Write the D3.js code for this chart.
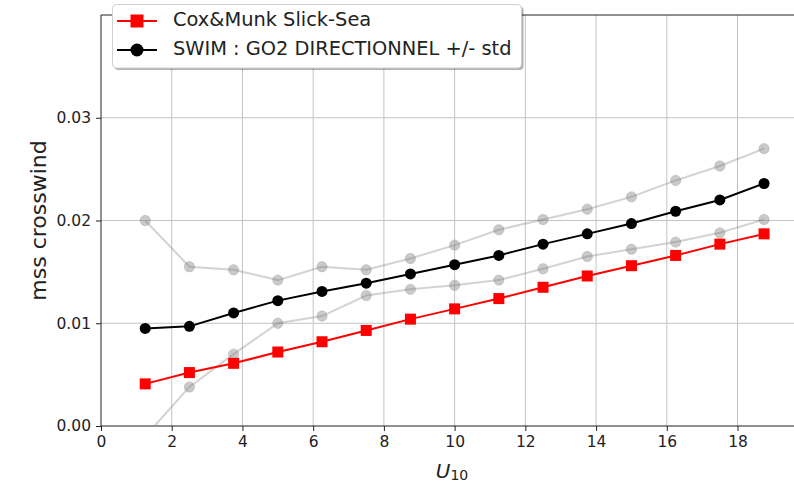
<!DOCTYPE html>
<html>
<head>
<meta charset="utf-8">
<script src="https://cdn.jsdelivr.net/npm/d3@7"></script>
<style>
  html, body { margin: 0; padding: 0; background: #fff; }
  svg { display: block; font-family: "DejaVu Sans", sans-serif; }
</style>
</head>
<body>
<svg id="chart" width="794" height="485"></svg>
<script>
// Wind speed bins (m/s)
const windSpeed = [1.25, 2.5, 3.75, 5, 6.25, 7.5, 8.75, 10, 11.25, 12.5, 13.75, 15, 16.25, 17.5, 18.75];
// Cox & Munk slick-sea crosswind mean square slope
const coxMunk = [0.0041, 0.0052, 0.0061, 0.0072, 0.0082, 0.0093, 0.0104, 0.0114, 0.0124, 0.0135, 0.0146, 0.0156, 0.0166, 0.0177, 0.0187];
// SWIM GO2 directional estimate (mean) and its +/- std envelope
const swimMean = [0.0095, 0.0097, 0.0110, 0.0122, 0.0131, 0.0139, 0.0148, 0.0157, 0.0166, 0.0177, 0.0187, 0.0197, 0.0209, 0.0220, 0.0236];
const swimUpper = [0.0200, 0.0155, 0.0152, 0.0142, 0.0155, 0.0152, 0.0163, 0.0176, 0.0191, 0.0201, 0.0211, 0.0223, 0.0239, 0.0253, 0.0270];
const swimLower = [-0.0010, 0.0038, 0.0070, 0.0100, 0.0107, 0.0127, 0.0133, 0.0137, 0.0142, 0.0153, 0.0165, 0.0172, 0.0179, 0.0188, 0.0201];
// Axis ticks
const xTicks = [0, 2, 4, 6, 8, 10, 12, 14, 16, 18];
const yTicks = [0, 0.01, 0.02, 0.03];
const legendLabels = ["Cox&Munk Slick-Sea", "SWIM : GO2 DIRECTIONNEL +/- std"];

const svg = d3.select("#chart");
const plot = { left: 101, right: 795, top: 15, bottom: 426 };

const x = d3.scaleLinear().domain([0, 19.625]).range([plot.left, plot.right]);
const y = d3.scaleLinear().domain([0, 0.04]).range([plot.bottom, plot.top]);

svg.append("defs").append("clipPath").attr("id", "plot-clip")
  .append("rect")
  .attr("x", plot.left).attr("y", plot.top)
  .attr("width", plot.right - plot.left).attr("height", plot.bottom - plot.top);

// Grid
const grid = svg.append("g").attr("stroke", "#c4c4c4").attr("stroke-width", 1);
xTicks.filter(t => t > 0).forEach(t => {
  grid.append("line").attr("x1", x(t)).attr("x2", x(t)).attr("y1", plot.top).attr("y2", plot.bottom);
});
yTicks.filter(t => t > 0).forEach(t => {
  grid.append("line").attr("x1", plot.left).attr("x2", plot.right).attr("y1", y(t)).attr("y2", y(t));
});

// Axes
const xAxis = svg.append("g").attr("transform", `translate(0,${plot.bottom})`)
  .call(d3.axisBottom(x).tickValues(xTicks).tickFormat(d3.format("d")).tickSize(5).tickPadding(5));
const yAxis = svg.append("g").attr("transform", `translate(${plot.left},0)`)
  .call(d3.axisLeft(y).tickValues(yTicks).tickFormat(d3.format(".2f")).tickSize(5).tickPadding(5));
[xAxis, yAxis].forEach(a => {
  a.select(".domain").remove();
  a.selectAll("text").attr("font-size", 15.5).attr("fill", "#222").attr("font-family", "DejaVu Sans");
  a.selectAll("line").attr("stroke", "#222");
});

// Spines
svg.append("line").attr("x1", plot.left).attr("x2", plot.right).attr("y1", plot.bottom).attr("y2", plot.bottom).attr("stroke", "#222");
svg.append("line").attr("x1", plot.left).attr("x2", plot.right).attr("y1", plot.top).attr("y2", plot.top).attr("stroke", "#222");
svg.append("line").attr("x1", plot.left).attr("x2", plot.left).attr("y1", plot.top).attr("y2", plot.bottom).attr("stroke", "#222");

const data = (vals) => windSpeed.map((u, i) => [u, vals[i]]);
const line = d3.line().x(d => x(d[0])).y(d => y(d[1]));
const layer = svg.append("g").attr("clip-path", "url(#plot-clip)");

// +/- std envelope
[swimUpper, swimLower].forEach(vals => {
  layer.append("path").datum(data(vals)).attr("d", line)
    .attr("fill", "none").attr("stroke", "#808080").attr("stroke-width", 2).attr("opacity", 0.35);
  layer.append("g").selectAll("circle").data(data(vals)).join("circle")
    .attr("cx", d => x(d[0])).attr("cy", d => y(d[1])).attr("r", 5.2)
    .attr("fill", "#808080").attr("fill-opacity", 0.42)
    .attr("stroke", "#808080").attr("stroke-opacity", 0.25).attr("stroke-width", 1);
});

// Cox & Munk
layer.append("path").datum(data(coxMunk)).attr("d", line)
  .attr("fill", "none").attr("stroke", "#ff0000").attr("stroke-width", 2);
layer.selectAll("rect.cm").data(data(coxMunk)).join("rect").attr("class", "cm")
  .attr("x", d => x(d[0]) - 5.5).attr("y", d => y(d[1]) - 5.5)
  .attr("width", 11).attr("height", 11).attr("fill", "#ff0000");

// SWIM mean
layer.append("path").datum(data(swimMean)).attr("d", line)
  .attr("fill", "none").attr("stroke", "#000").attr("stroke-width", 2);
layer.selectAll("circle.sw").data(data(swimMean)).join("circle").attr("class", "sw")
  .attr("cx", d => x(d[0])).attr("cy", d => y(d[1])).attr("r", 5.5).attr("fill", "#000");

// Axis labels
svg.append("text")
  .attr("transform", `translate(46,${(plot.top + plot.bottom) / 2}) rotate(-90)`)
  .attr("text-anchor", "middle").attr("font-size", 22).attr("fill", "#222")
  .text("mss crosswind");
const xl = svg.append("text").attr("x", 452).attr("y", 478).attr("text-anchor", "middle")
  .attr("font-size", 20).attr("fill", "#222");
xl.append("tspan").attr("font-style", "italic").text("U");
xl.append("tspan").attr("font-size", 14).attr("dy", 2).text("10");

// Legend
const lg = svg.append("g");
lg.append("rect").attr("x", 114.5).attr("y", 6.5).attr("width", 409).attr("height", 63.5)
  .attr("rx", 4).attr("fill", "#000").attr("opacity", 0.3);
lg.append("rect").attr("x", 112.5).attr("y", 4.5).attr("width", 409).attr("height", 63.5)
  .attr("rx", 4).attr("fill", "#fff").attr("stroke", "#d0d0d0").attr("stroke-width", 1);
const rows = [
  { label: legendLabels[0], color: "#ff0000", shape: "square", cy: 21 },
  { label: legendLabels[1], color: "#000", shape: "circle", cy: 50 }
];
rows.forEach(r => {
  lg.append("line").attr("x1", 117).attr("x2", 157).attr("y1", r.cy).attr("y2", r.cy)
    .attr("stroke", r.color).attr("stroke-width", 2);
  if (r.shape === "square") {
    lg.append("rect").attr("x", 137 - 6.5).attr("y", r.cy - 6.5).attr("width", 13).attr("height", 13).attr("fill", r.color);
  } else {
    lg.append("circle").attr("cx", 137).attr("cy", r.cy).attr("r", 6.5).attr("fill", r.color);
  }
  lg.append("text").attr("x", 173).attr("y", r.cy + 5).attr("font-size", 19.4).attr("fill", "#222").text(r.label);
});
</script>
</body>
</html>
